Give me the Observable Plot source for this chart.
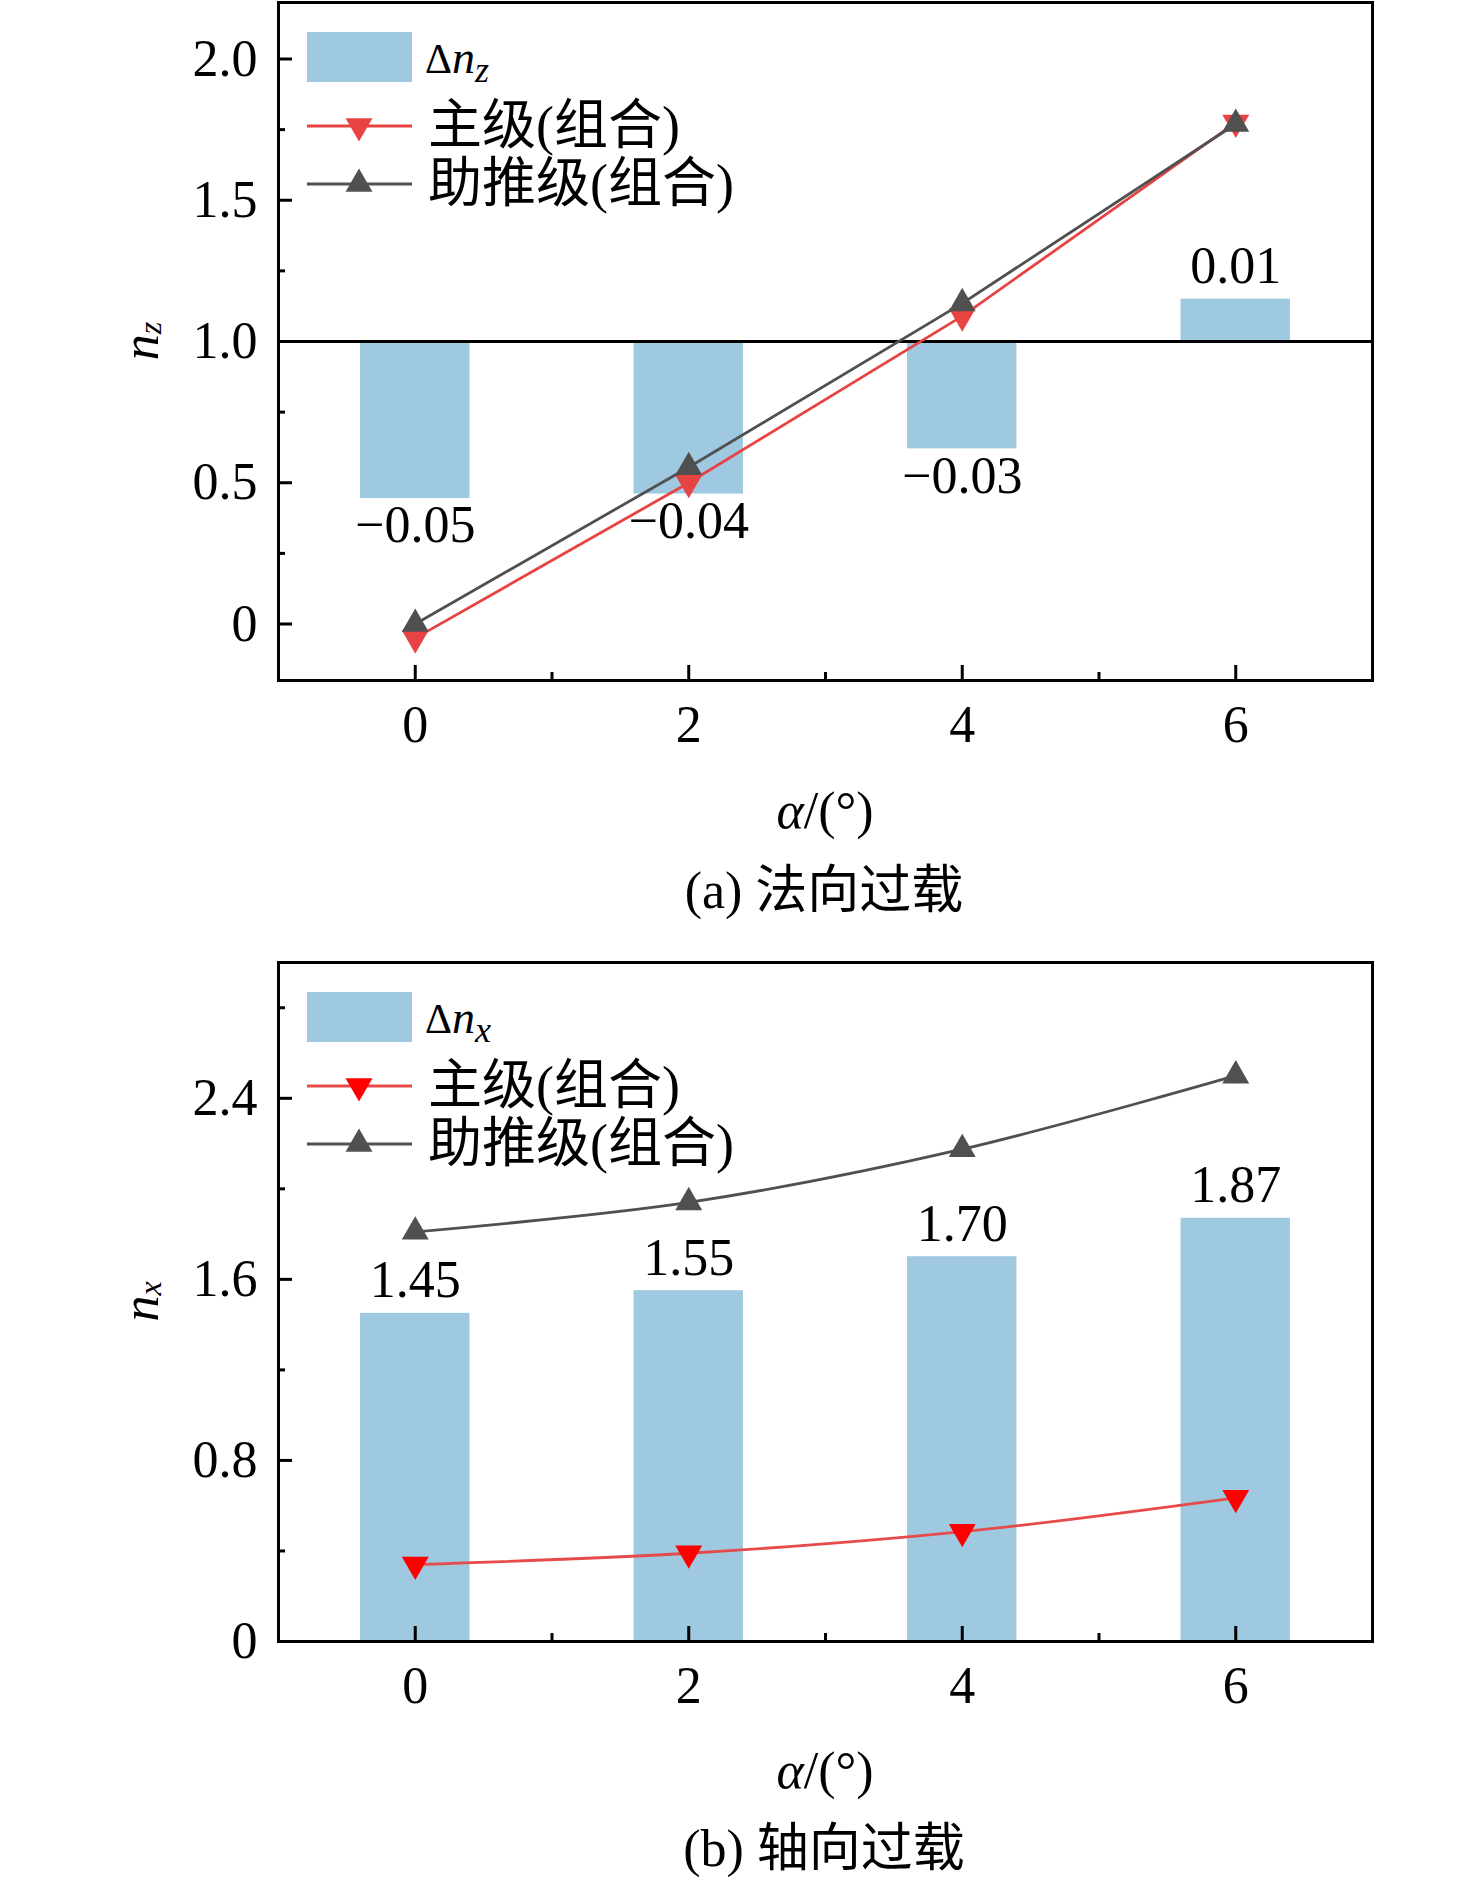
<!DOCTYPE html>
<html>
<head>
<meta charset="utf-8">
<script src="https://cdn.jsdelivr.net/npm/d3@7"></script>
<script src="https://cdn.jsdelivr.net/npm/@observablehq/plot@0.6"></script>
<style>
  html, body { margin: 0; padding: 0; background: #fff; overflow: hidden; }
  #root { position: relative; width: 1476px; height: 1888px;
    font-family: "Liberation Serif", "Times New Roman", "Noto Sans CJK SC", serif; }
  .panel { position: absolute; left: 0; }
  .cap { position: absolute; left: 324px; width: 1000px; text-align: center;
    font-size: 52px; line-height: 60px; color: #000; }
</style>
</head>
<body>
<div id="root"></div>
<script>
// ---------- data ----------
const alpha = [0, 2, 4, 6];
const xTicks = [0, 2, 4, 6];
const xMinorTicks = [1, 3, 5];

// (a) normal overload
const dnzLabel = [-0.05, -0.04, -0.03, 0.01];   // printed Δn_z values
const dnzBarEnd = [0.444, 0.46, 0.62, 1.15];     // bar end as drawn on the n_z axis (bars start at 1.0)
const nzMain = [-0.05, 0.50, 1.09, 1.775];       // 主级(组合)
const nzBooster = [0.0, 0.555, 1.135, 1.77];     // 助推级(组合)
const yTicksA = [0, 0.5, 1.0, 1.5, 2.0];
const yMinorA = [0.25, 0.75, 1.25, 1.75];

// (b) axial overload
const dnx = [1.45, 1.55, 1.70, 1.87];
const nxMain = [0.34, 0.39, 0.485, 0.635];
const nxBooster = [1.81, 1.94, 2.175, 2.50];
const yTicksB = [0, 0.8, 1.6, 2.4];
const yMinorB = [0.4, 1.2, 2.0, 2.8];

const legendMain = "主级(组合)";
const legendBooster = "助推级(组合)";
const captionA = "(a) 法向过载";
const captionB = "(b) 轴向过载";

// ---------- styles ----------
const FONT = '"Liberation Serif", "Times New Roman", "Noto Sans CJK SC", serif';
const BAR = "#9fc9e0";
const GRAY = "#505050";
const BAR_HALF = 0.4;
const FS = 52;

const triDown = {
  draw(ctx, size) {
    const y = Math.sqrt(size / (3 * Math.sqrt(3)));
    const s3 = Math.sqrt(3);
    ctx.moveTo(0, 2 * y);
    ctx.lineTo(s3 * y, -y);
    ctx.lineTo(-s3 * y, -y);
    ctx.closePath();
  }
};
const fmtY = d => d === 0 ? "0" : d.toFixed(1);
const fmtD = d => (d < 0 ? "\u2212" : "") + Math.abs(d).toFixed(2);

function commonAxes(yMajor, yMinor) {
  return [
    Plot.frame({stroke: "black", strokeWidth: 3}),
    Plot.axisY(yMajor, {anchor: "left", tickSize: -14, tickPadding: 35, tickFormat: fmtY,
      fontSize: FS, fontFamily: FONT, strokeWidth: 3, label: null, fill: "black"}),
    Plot.axisY(yMinor, {anchor: "left", tickSize: -7, tickFormat: () => "", strokeWidth: 3, label: null}),
    Plot.axisX(xTicks, {anchor: "bottom", tickSize: -15, tickPadding: 40, tickFormat: d => String(d),
      fontSize: FS, fontFamily: FONT, strokeWidth: 3, label: null, fill: "black"}),
    Plot.axisX(xMinorTicks, {anchor: "bottom", tickSize: -8, tickFormat: () => "", strokeWidth: 3, label: null})
  ];
}

function decorate(svg, o) {
  const s = d3.select(svg);
  s.style("overflow", "visible");
  const g = s.append("g").attr("font-family", FONT).attr("fill", "black");
  // y label
  const yl = g.append("text")
    .attr("transform", `translate(140,${o.yCenter}) rotate(-90)`)
    .attr("text-anchor", "middle").attr("dominant-baseline", "central")
    .attr("font-size", FS);
  yl.append("tspan").attr("font-style", "italic").text("n");
  yl.append("tspan").attr("font-style", "italic").attr("font-size", 32).attr("dy", 10).text(o.sub);
  // x label
  const xl = g.append("text").attr("x", 825).attr("y", 810)
    .attr("text-anchor", "middle").attr("dominant-baseline", "central").attr("font-size", FS);
  xl.append("tspan").attr("font-style", "italic").text("α");
  xl.append("tspan").text("/(°)");
  // legend
  const L = g.append("g").attr("text-anchor", "start");
  L.append("rect").attr("x", 307).attr("y", 32).attr("width", 105).attr("height", 50).attr("fill", BAR);
  const t0 = L.append("text").attr("x", 425).attr("y", 73).attr("font-size", 42).attr("text-anchor", "start");
  t0.append("tspan").text("Δ");
  t0.append("tspan").attr("font-style", "italic").attr("font-size", 46).text("n");
  t0.append("tspan").attr("font-style", "italic").attr("font-size", 36).attr("dy", 9).text(o.sub);
  const rows = [
    {y: 126, line: o.redLine, mk: o.redMarker, sym: triDown, text: legendMain},
    {y: 184, line: GRAY, mk: GRAY, sym: d3.symbolTriangle, text: legendBooster}
  ];
  for (const r of rows) {
    L.append("line").attr("x1", 307).attr("x2", 412).attr("y1", r.y).attr("y2", r.y)
      .attr("stroke", r.line).attr("stroke-width", 3);
    L.append("path").attr("d", d3.symbol(r.sym, 314)()).attr("transform", `translate(359,${r.y})`).attr("fill", r.mk);
    L.append("text").attr("x", 428).attr("y", r.y).attr("dominant-baseline", "central")
      .attr("text-anchor", "start").attr("font-size", 54).text(r.text);
  }
  return svg;
}

const root = document.getElementById("root");

// ---------- panel (a) ----------
const rowsA = alpha.map((a, i) => ({alpha: a, dnz: dnzLabel[i], bar: dnzBarEnd[i], main: nzMain[i], boost: nzBooster[i]}));
const redA = "#e84343";
const svgA = Plot.plot({
  width: 1476, height: 860,
  marginTop: 2, marginLeft: 278, marginRight: 104, marginBottom: 180,
  style: {fontFamily: FONT, fontSize: FS + "px", background: "white", color: "black"},
  x: {domain: [-1, 7]},
  y: {domain: [-0.2, 2.2]},
  marks: [
    Plot.rect(rowsA, {x1: d => d.alpha - BAR_HALF, x2: d => d.alpha + BAR_HALF, y1: () => 1, y2: "bar", fill: BAR}),
    Plot.ruleY([1], {stroke: "black", strokeWidth: 3}),
    Plot.text(rowsA.filter(d => d.dnz < 0), {x: "alpha", y: "bar", text: d => fmtD(d.dnz), lineAnchor: "top", dy: 7, fontSize: FS, fill: "black"}),
    Plot.text(rowsA.filter(d => d.dnz >= 0), {x: "alpha", y: "bar", text: d => fmtD(d.dnz), lineAnchor: "bottom", dy: -16, fontSize: FS, fill: "black"}),
    Plot.line(rowsA, {x: "alpha", y: "main", stroke: redA, strokeWidth: 2.8}),
    Plot.dot(rowsA, {x: "alpha", y: "main", symbol: triDown, r: 10, fill: redA}),
    Plot.line(rowsA, {x: "alpha", y: "boost", stroke: GRAY, strokeWidth: 2.8}),
    Plot.dot(rowsA, {x: "alpha", y: "boost", symbol: "triangle", r: 10, fill: GRAY}),
    ...commonAxes(yTicksA, yMinorA)
  ]
});
decorate(svgA, {yCenter: 341, sub: "z", redLine: redA, redMarker: redA});
svgA.classList.add("panel");
svgA.style.top = "0px";
root.appendChild(svgA);

const capA = document.createElement("div");
capA.className = "cap"; capA.style.top = "861px"; capA.textContent = captionA;
root.appendChild(capA);

// ---------- panel (b) ----------
const rowsB = alpha.map((a, i) => ({alpha: a, dnx: dnx[i], main: nxMain[i], boost: nxBooster[i]}));
const redLineB = "#e64a4a";
const redMkB = "#ff0000";
const svgB = Plot.plot({
  width: 1476, height: 861,
  marginTop: 2, marginLeft: 278, marginRight: 104, marginBottom: 180,
  style: {fontFamily: FONT, fontSize: FS + "px", background: "white", color: "black"},
  x: {domain: [-1, 7]},
  y: {domain: [0, 3.0]},
  marks: [
    Plot.rect(rowsB, {x1: d => d.alpha - BAR_HALF, x2: d => d.alpha + BAR_HALF, y1: () => 0, y2: "dnx", fill: BAR}),
    Plot.text(rowsB, {x: "alpha", y: "dnx", text: d => d.dnx.toFixed(2), lineAnchor: "bottom", dy: -16, fontSize: FS, fill: "black"}),
    Plot.line(rowsB, {x: "alpha", y: "main", stroke: redLineB, strokeWidth: 2.8, curve: "catmull-rom"}),
    Plot.dot(rowsB, {x: "alpha", y: "main", symbol: triDown, r: 10, fill: redMkB}),
    Plot.line(rowsB, {x: "alpha", y: "boost", stroke: GRAY, strokeWidth: 2.8, curve: "catmull-rom"}),
    Plot.dot(rowsB, {x: "alpha", y: "boost", symbol: "triangle", r: 10, fill: GRAY}),
    ...commonAxes(yTicksB, yMinorB)
  ]
});
decorate(svgB, {yCenter: 341.5, sub: "x", redLine: redLineB, redMarker: redMkB});
svgB.classList.add("panel");
svgB.style.top = "960px";
root.appendChild(svgB);

const capB = document.createElement("div");
capB.className = "cap"; capB.style.top = "1819px"; capB.textContent = captionB;
root.appendChild(capB);
</script>
</body>
</html>
